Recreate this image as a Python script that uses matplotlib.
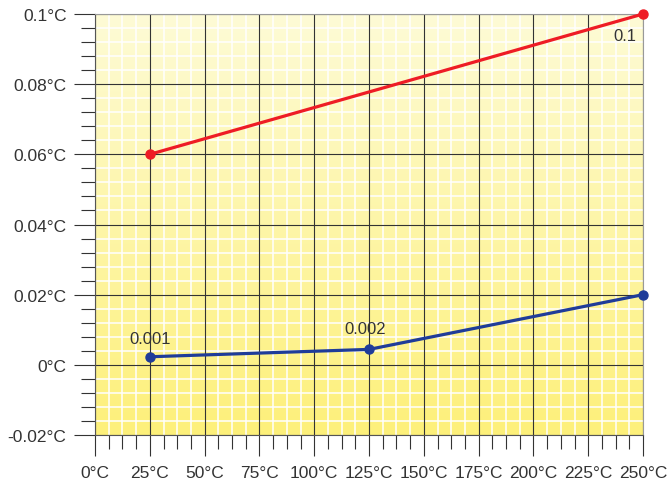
import numpy as np
import matplotlib
matplotlib.use("Agg")
import matplotlib.pyplot as plt
from matplotlib.colors import LinearSegmentedColormap
from matplotlib.ticker import MultipleLocator

# dati
temp_x = [25, 125, 250]
rosso_x = [25, 250]
rosso_y = [0.06, 0.1]
blu_y = [0.0023, 0.0044, 0.02]
etichette_x = ['0°C', '25°C', '50°C', '75°C', '100°C', '125°C', '150°C',
               '175°C', '200°C', '225°C', '250°C']
etichette_y = ['-0.02°C', '0°C', '0.02°C', '0.04°C', '0.06°C', '0.08°C', '0.1°C']

plt.rcParams['font.family'] = ['Liberation Sans', 'DejaVu Sans']

fig = plt.figure(figsize=(6.67, 4.81), dpi=100)
ax = fig.add_axes([95 / 667, 45 / 481, 548 / 667, 421 / 481])

# sfondo sfumato
cmap = LinearSegmentedColormap.from_list('giallo', ['#fdf07a', '#fefbd6'])
grad = np.linspace(0, 1, 256).reshape(-1, 1)
ax.imshow(grad, cmap=cmap, origin='lower', aspect='auto',
          extent=[0, 250, -0.02, 0.1], zorder=0)

ax.set_xlim(0, 250)
ax.set_ylim(-0.02, 0.1)
ax.xaxis.set_minor_locator(MultipleLocator(6.25))
ax.yaxis.set_minor_locator(MultipleLocator(0.004))
tick_x = np.arange(0, 251, 25)
tick_y = np.arange(-0.02, 0.1001, 0.02)
ax.set_xticks(tick_x)
ax.set_xticklabels(etichette_x)
ax.set_yticks(tick_y)
ax.set_yticklabels(etichette_y)

# griglia bianca fine + griglia scura principale sopra
ax.set_axisbelow(True)
ax.grid(which='minor', color='white', linewidth=1.1)
ax.vlines(tick_x, -0.02, 0.1, color='#333333', linewidth=0.8, zorder=1)
ax.hlines(tick_y, 0, 250, color='#333333', linewidth=0.8, zorder=1)

ax.tick_params(which='major', length=15, width=0.8, color='#333333',
               labelsize=12.5, labelcolor='#333333')
ax.tick_params(which='minor', length=10, width=0.8, color='#333333')
ax.tick_params(axis='x', which='major', pad=6.5)
ax.tick_params(axis='y', which='major', pad=5.5)

for lato in ['top', 'right']:
    ax.spines[lato].set_color('#999999')
    ax.spines[lato].set_linewidth(0.8)
for lato in ['left', 'bottom']:
    ax.spines[lato].set_color('#555555')
    ax.spines[lato].set_linewidth(0.8)

ax.plot(rosso_x, rosso_y, color='#ee1c25', linewidth=2.3, marker='o',
        markersize=6.5, zorder=3, clip_on=False)
ax.plot(temp_x, blu_y, color='#1f3c99', linewidth=2.3, marker='o',
        markersize=6.5, zorder=3, clip_on=False)

ax.annotate('0.001', (temp_x[0], blu_y[0]), xytext=(0, 8),
            textcoords='offset points', ha='center', va='bottom',
            fontsize=12, color='#333333')
ax.annotate('0.002', (temp_x[1], blu_y[1]), xytext=(-3, 10),
            textcoords='offset points', ha='center', va='bottom',
            fontsize=12, color='#333333')
ax.annotate('0.1', (rosso_x[1], rosso_y[1]), xytext=(-13, -10),
            textcoords='offset points', ha='center', va='top',
            fontsize=12, color='#333333')

fig.savefig('out.png', dpi=100)
